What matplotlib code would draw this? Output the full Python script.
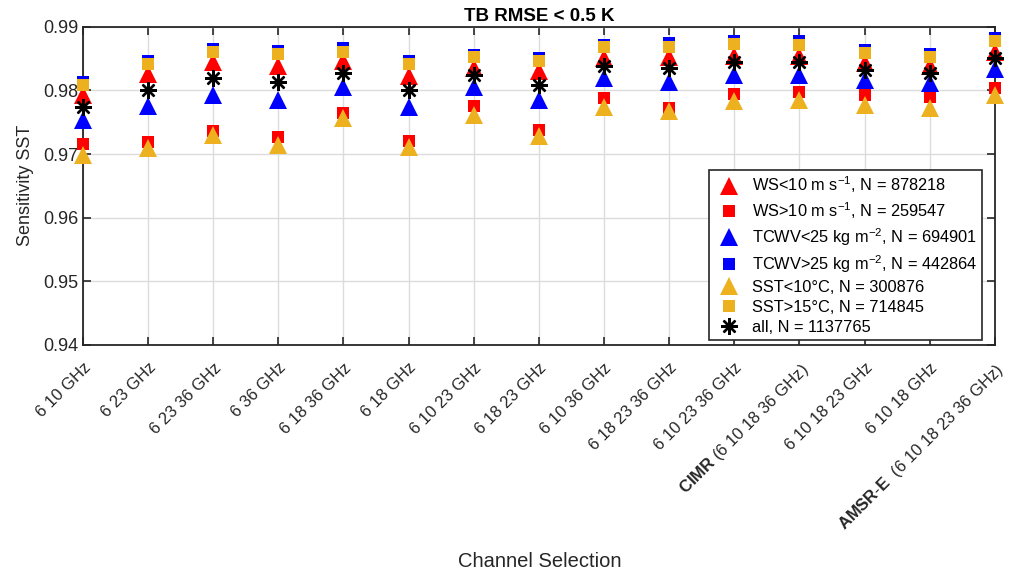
import matplotlib
matplotlib.use("Agg")
import matplotlib.pyplot as plt

plt.rcParams['font.family'] = ['Liberation Sans', 'DejaVu Sans']
plt.rcParams['mathtext.fontset'] = 'custom'
plt.rcParams['mathtext.rm'] = 'Liberation Sans'
plt.rcParams['mathtext.bf'] = 'Liberation Sans:bold'
plt.rcParams['mathtext.it'] = 'Liberation Sans:italic'

channels = [
    "6 10 GHz", "6 23 GHz", "6 23 36 GHz", "6 36 GHz", "6 18 36 GHz",
    "6 18 GHz", "6 10 23 GHz", "6 18 23 GHz", "6 10 36 GHz", "6 18 23 36 GHz",
    "6 10 23 36 GHz", r"$\mathbf{CIMR}$ (6 10 18 36 GHz)", "6 10 18 23 GHz",
    "6 10 18 GHz", r"$\mathbf{AMSR}$-$\mathbf{E}$  (6 10 18 23 36 GHz)",
]

ws_lt10 = [0.9793, 0.9826, 0.9844, 0.9839, 0.9847, 0.9823, 0.9835, 0.9830,
           0.9851, 0.9853, 0.9854, 0.9854, 0.9843, 0.9838, 0.9861]
ws_gt10 = [0.9716, 0.9719, 0.9737, 0.9727, 0.9764, 0.9720, 0.9776, 0.9738,
           0.9788, 0.9772, 0.9795, 0.9797, 0.9793, 0.9789, 0.9804]
tcwv_lt25 = [0.9754, 0.9775, 0.9793, 0.9785, 0.9806, 0.9774, 0.9806, 0.9785,
             0.9819, 0.9814, 0.9825, 0.9825, 0.9817, 0.9811, 0.9833]
tcwv_gt25 = [0.9814, 0.9847, 0.9865, 0.9862, 0.9867, 0.9847, 0.9856, 0.9851,
             0.9872, 0.9875, 0.9878, 0.9877, 0.9864, 0.9858, 0.9883]
sst_lt10 = [0.9699, 0.9710, 0.9730, 0.9714, 0.9756, 0.9711, 0.9762, 0.9728,
            0.9774, 0.9767, 0.9783, 0.9785, 0.9777, 0.9772, 0.9793]
sst_gt15 = [0.9809, 0.9841, 0.9860, 0.9857, 0.9861, 0.9841, 0.9852, 0.9847,
            0.9868, 0.9869, 0.9873, 0.9872, 0.9859, 0.9852, 0.9878]
all_data = [0.9774, 0.9801, 0.9819, 0.9813, 0.9828, 0.9800, 0.9825, 0.9809,
            0.9838, 0.9835, 0.9844, 0.9845, 0.9832, 0.9827, 0.9851]

labels = [
    r"WS<10 m s$^{-1}$, N = 878218",
    r"WS>10 m s$^{-1}$, N = 259547",
    r"TCWV<25 kg m$^{-2}$, N = 694901",
    r"TCWV>25 kg m$^{-2}$, N = 442864",
    "SST<10°C, N = 300876",
    "SST>15°C, N = 714845",
    "all, N = 1137765",
]

red = (1, 0, 0)
blue = (0, 0, 1)
yellow = (0.929, 0.694, 0.125)
dark = '#262626'

x = list(range(1, len(channels) + 1))

fig = plt.figure(figsize=(10.11, 5.71), dpi=100)
ax = fig.add_axes([0.082, 0.396, 0.902, 0.557])

# filled markers, no outlines; drawn in this order so the yellow squares
# sit on top of the blue ones and the stars on top of everything
series = [
    (ws_lt10, '^', red, 13.5),
    (ws_gt10, 's', red, 8.5),
    (tcwv_lt25, '^', blue, 13.5),
    (tcwv_gt25, 's', blue, 8.5),
    (sst_lt10, '^', yellow, 13.5),
    (sst_gt15, 's', yellow, 8.5),
]
for (vals, mk, col, ms), lab in zip(series, labels):
    ax.plot(x, vals, linestyle='none', marker=mk, color=col, markersize=ms,
            markeredgewidth=0, label=lab, clip_on=False, zorder=3)
ax.plot(x, all_data, linestyle='none', marker=(8, 2, 0), color='black',
        markersize=12, markeredgewidth=1.7, label=labels[-1], clip_on=False, zorder=4)

ax.set_xlim(1, 15)
ax.set_ylim(0.94, 0.99)
ax.set_xticks(x)
ax.set_xticklabels(channels, rotation=45, ha='right', va='top',
                   rotation_mode='anchor', fontsize=12)
ax.set_yticks([0.94, 0.95, 0.96, 0.97, 0.98, 0.99])
ax.set_yticklabels(["0.94", "0.95", "0.96", "0.97", "0.98", "0.99"], fontsize=13)
ax.tick_params(direction='in', length=6, width=1.2, top=True, right=True,
               colors=dark, labelcolor=dark)
ax.tick_params(axis='x', pad=11)
ax.tick_params(axis='y', pad=3)
ax.grid(True, color='#dcdcdc', linewidth=1)
ax.set_axisbelow(True)
for sp in ax.spines.values():
    sp.set_linewidth(1.3)
    sp.set_color(dark)

ax.set_title("TB RMSE < 0.5 K", fontsize=13.5, fontweight='bold', pad=4)
ax.set_ylabel("Sensitivity SST", fontsize=13, color=dark, labelpad=7)
fig.text(0.534, 0.0, "Channel Selection", ha='center', va='bottom',
         fontsize=14.5, color=dark)

leg = ax.legend(loc='lower right', bbox_to_anchor=(0.986, 0.016), fontsize=11.75,
                frameon=True, fancybox=False, edgecolor=dark, framealpha=1,
                handletextpad=0.5, labelspacing=0.31, borderpad=0.3,
                handlelength=1.8, borderaxespad=0)
leg.get_frame().set_linewidth(1.2)

fig.savefig("out.png", dpi=100)
